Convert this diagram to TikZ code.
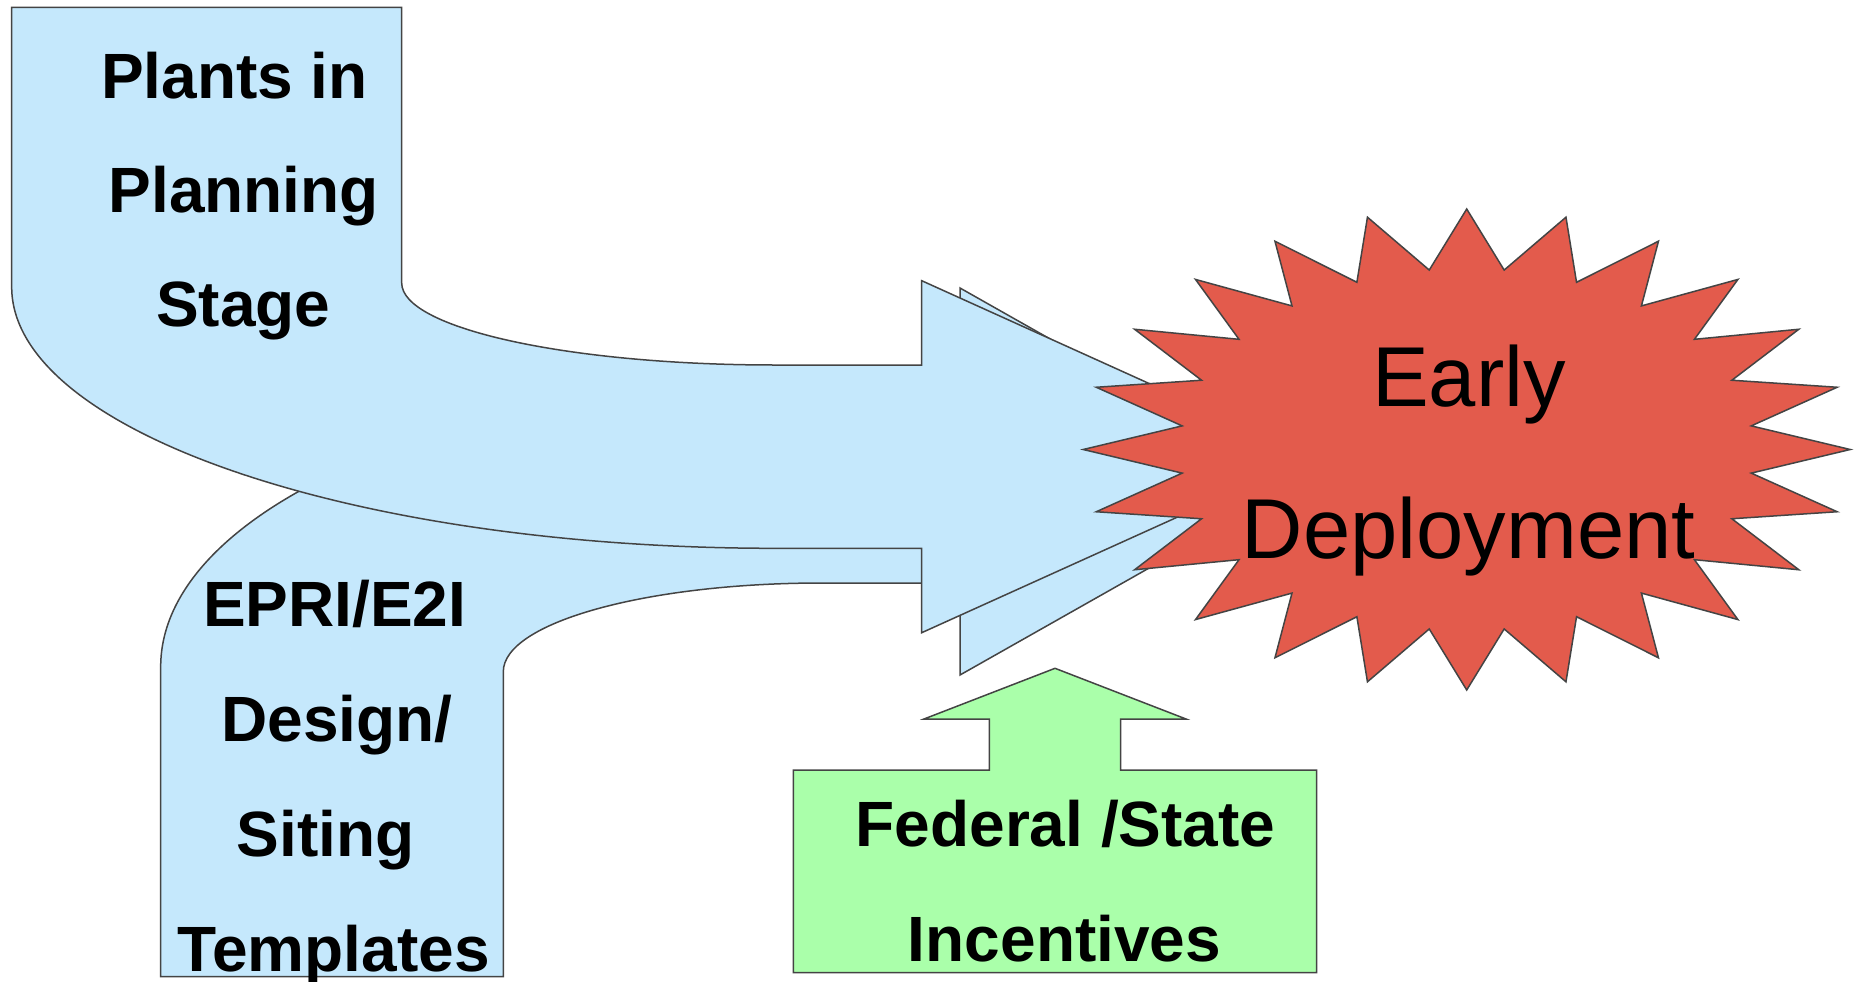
\documentclass[tikz,border=0pt]{standalone}
\usepackage{fontspec}
\setmainfont{Liberation Sans}
\definecolor{flowblue}{RGB}{197,232,252}
\definecolor{burstred}{RGB}{227,91,76}
\definecolor{pushgreen}{RGB}{170,255,170}
\definecolor{edgegray}{RGB}{68,68,68}
\begin{document}
\begin{tikzpicture}[x=1pt,y=-1pt,
  shapeline/.style={draw=edgegray,line width=1.5pt,line join=miter},
  flowarrow/.style={shapeline,fill=flowblue},
  burst/.style={shapeline,fill=burstred},
  pusharrow/.style={shapeline,fill=pushgreen},
  lbl/.style={anchor=base,inner sep=0pt,font=\fontsize{64}{77}\selectfont\bfseries},
  biglbl/.style={anchor=base,inner sep=0pt,font=\fontsize{85}{100}\selectfont}]

\fill[white] (0,0) rectangle (1860,982);
\useasboundingbox (0,0) rectangle (1860,982);

% lower curved arrow (design/siting templates)
\draw[flowarrow] (160.7,976.7) -- (160.7,666.7)
  .. controls (160.7,508.4) and (456.8,380) .. (822,380)
  -- (960,380) -- (960,288) -- (1302,481.5) -- (960,675) -- (960,583)
  -- (822,583)
  .. controls (646,583) and (503.3,622.7) .. (503.3,671.7)
  -- (503.3,976.7) -- cycle;

% upper curved arrow (plants in planning)
\draw[flowarrow] (11.7,7.3) -- (401.7,7.3) -- (401.7,283)
  .. controls (401.7,328.3) and (568.8,365) .. (775,365)
  -- (921.7,365) -- (921.7,280.7) -- (1311,456.7) -- (921.7,632.7)
  -- (921.7,548.3) -- (775,548.3)
  .. controls (353.4,548.3) and (11.7,431.3) .. (11.7,287)
  -- cycle;

% 24-point burst
\draw[burst] (1850.2,449.5)
  \foreach \k in {1,...,47} {
    -- ({1466.7+(335.25+48.25*cos(180*\k))*cos(7.5*\k)},
        {449.5+(210.75+29.75*cos(180*\k))*sin(7.5*\k)})
  } -- cycle;

% incentives block with upward arrow
\draw[pusharrow] (793.3,770) -- (989.3,770) -- (989.3,719) -- (924,719)
  -- (1055,668.3) -- (1186,719) -- (1120.7,719) -- (1120.7,770)
  -- (1316.5,770) -- (1316.5,972.7) -- (793.3,972.7) -- cycle;

% labels
\node[lbl] (plan1) at (234.5,98.3) {Plants in};
\node[lbl] (plan2) at (243.8,212.3) {Planning};
\node[lbl] (plan3) at (243.3,326.7) {Stage};

\node[lbl] (tmpl1) at (334.7,626.7) {EPRI/E2I};
\node[lbl] (tmpl2) at (337,741.7) {Design/};
\node[lbl] (tmpl3) at (325.8,856.7) {Siting};
\node[lbl] (tmpl4) at (333.7,971.7) {Templates};

\node[lbl] (inc1) at (1065.5,846.7) {Federal /State};
\node[lbl] (inc2) at (1064.5,961.7) {Incentives};

\node[biglbl] (early1) at (1469,406.7) {Early};
\node[biglbl] (early2) at (1468.7,558.3) {Deployment};
\end{tikzpicture}
\end{document}
